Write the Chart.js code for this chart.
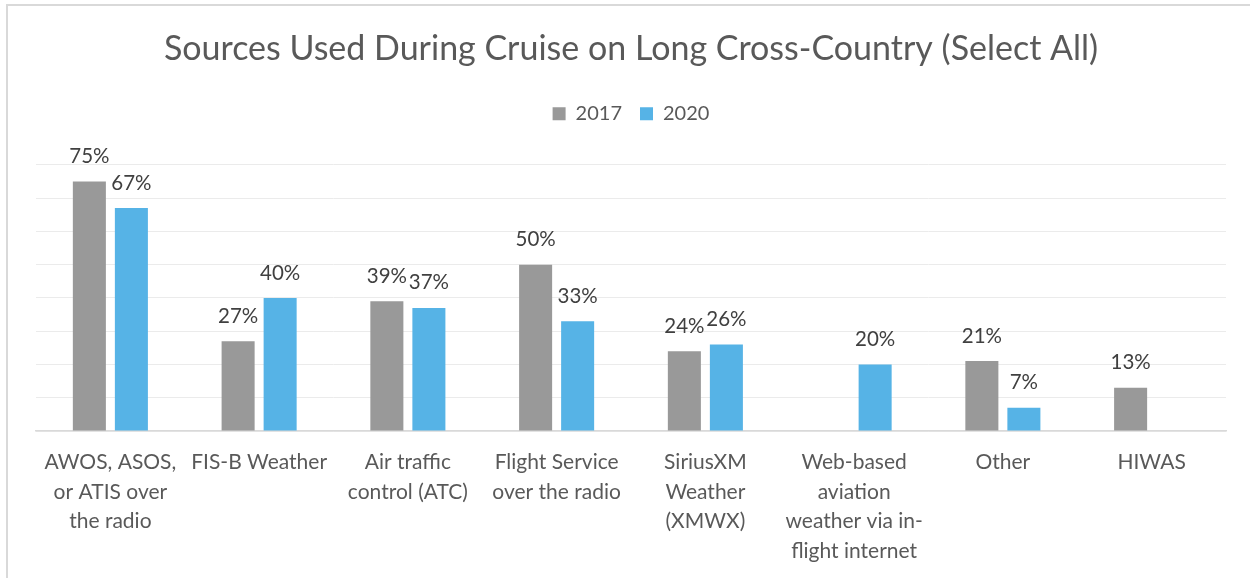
<!DOCTYPE html>
<html>
<head>
<meta charset="utf-8">
<script src="https://cdn.jsdelivr.net/npm/chart.js@4"></script>
<style>
  html, body { margin: 0; padding: 0; background: #ffffff; }
  #wrap { position: relative; width: 1250px; height: 578px; overflow: hidden; background: #fff; }
  #frame { position: absolute; left: 6px; top: 4px; width: 1300px; height: 700px;
           border-left: 2px solid #d9d9d9; border-top: 2px solid #d9d9d9; pointer-events: none; }
  canvas { position: absolute; left: 0; top: 0; }
</style>
</head>
<body>
<div id="wrap">
  <canvas id="c" width="1250" height="578"></canvas>
  <div id="frame"></div>
</div>
<script>
const categories = [
  ["AWOS, ASOS,", "or ATIS over", "the radio"],
  ["FIS-B Weather"],
  ["Air traffic", "control (ATC)"],
  ["Flight Service", "over the radio"],
  ["SiriusXM", "Weather", "(XMWX)"],
  ["Web-based", "aviation", "weather via in-", "flight internet"],
  ["Other"],
  ["HIWAS"]
];
const seriesNames = ["2017", "2020"];
const values2017 = [75, 27, 39, 50, 24, null, 21, 13];
const values2020 = [67, 40, 37, 33, 26, 20, 7, null];
const chartTitle = "Sources Used During Cruise on Long Cross-Country (Select All)";

const FONT = "Lato, 'Open Sans', sans-serif";

const spacerPlugin = {
  id: 'legendSpacer',
  beforeInit(chart) {
    Chart.layouts.addBox(chart, {
      position: 'top', weight: 1, fullSize: true,
      options: { stackWeight: 1 },
      top: 0, left: 0, right: 0, bottom: 0, width: 0, height: 0,
      isHorizontal() { return true; },
      update(maxW) { this.width = maxW; this.height = 31; },
      getPadding() { return {top: 0, left: 0, right: 0, bottom: 0}; },
      draw() {}
    });
  }
};

const dataLabelPlugin = {
  id: 'barValueLabels',
  afterDatasetsDraw(chart) {
    const ctx = chart.ctx;
    ctx.save();
    ctx.font = "20.5px " + FONT;
    ctx.fillStyle = "#404040";
    ctx.textAlign = "center";
    ctx.textBaseline = "middle";
    chart.data.datasets.forEach((ds, di) => {
      const meta = chart.getDatasetMeta(di);
      meta.data.forEach((el, i) => {
        const v = ds.data[i];
        if (v === null || v === undefined) return;
        ctx.fillText(v + "%", el.x, el.y - 25);
      });
    });
    ctx.restore();
  }
};

new Chart(document.getElementById('c'), {
  type: 'bar',
  data: {
    labels: categories,
    datasets: [
      { label: seriesNames[0], data: values2017, backgroundColor: '#999999',
        barPercentage: 0.786, categoryPercentage: 0.565 },
      { label: seriesNames[1], data: values2020, backgroundColor: '#56B3E6',
        barPercentage: 0.786, categoryPercentage: 0.565 }
    ]
  },
  options: {
    responsive: false,
    devicePixelRatio: 1,
    animation: false,
    layout: { padding: { left: 36, right: 24, top: 0, bottom: 0 } },
    plugins: {
      title: {
        display: true, text: chartTitle, color: '#595959',
        font: { family: FONT, size: 34, weight: 'normal', lineHeight: 1.2 },
        padding: { top: 29, bottom: 16 }
      },
      legend: {
        display: true, position: 'top',
        labels: {
          color: '#595959', boxWidth: 13, boxHeight: 13, padding: 18,
          font: { family: FONT, size: 20 }
        }
      },
      tooltip: { enabled: false }
    },
    scales: {
      x: {
        grid: { display: false, drawTicks: false },
        border: { display: true, color: '#d9d9d9', width: 1.5 },
        ticks: {
          color: '#595959', padding: 17, maxRotation: 0, autoSkip: false,
          font: { family: FONT, size: 21, lineHeight: 1.4 }
        },
        afterFit(scale) { scale.height = 147; }
      },
      y: {
        min: 0, max: 80,
        ticks: { display: false, stepSize: 10 },
        grid: { color: '#ebebeb', lineWidth: 1, drawTicks: false },
        border: { display: false }
      }
    }
  },
  plugins: [spacerPlugin, dataLabelPlugin]
});
</script>
</body>
</html>
